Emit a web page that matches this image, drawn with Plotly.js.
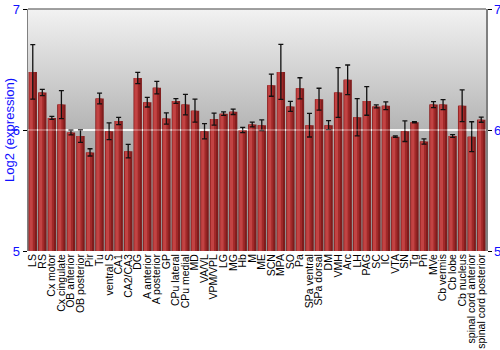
<!DOCTYPE html>
<html>
<head>
<meta charset="utf-8">
<script src="https://cdn.plot.ly/plotly-3.0.1.min.js"></script>
<style>html,body{margin:0;padding:0;background:#fff;}#chart{width:500px;height:350px;}</style>
</head>
<body>
<div id="chart"></div>
<script>
var regions = ["LS","RS","Cx motor","Cx cingulate","OB anterior","OB posterior","Pir","Tu","ventral S","CA1","CA2/CA3","DG","A anterior","A posterior","GP","CPu lateral","CPu medial","MD","VA/VL","VPM/VPL","LG","MG","Hb","M","ME","SCN","MPA","SO","Pa","SPa ventral","SPa dorsal","DM","VMH","Arc","LH","PAG","SC","IC","VTA","SN","Tg","Pn","MVe","Cb vermis","Cb lobe","Cb nucleus","spinal cord anterior","spinal cord posterior"];
var expression = [6.48,6.31,6.10,6.21,5.98,5.95,5.815,6.26,5.99,6.075,5.825,6.43,6.23,6.35,6.095,6.24,6.21,6.16,5.99,6.09,6.135,6.15,6.0,6.045,6.04,6.37,6.48,6.195,6.345,6.04,6.255,6.04,6.31,6.415,6.105,6.24,6.195,6.2,5.945,5.99,6.065,5.905,6.21,6.21,5.95,6.2,5.945,6.085];
var errors = [0.225,0.026,0.013,0.116,0.02,0.052,0.03,0.044,0.069,0.03,0.056,0.047,0.04,0.052,0.047,0.02,0.085,0.095,0.063,0.05,0.014,0.022,0.022,0.02,0.044,0.091,0.227,0.041,0.087,0.098,0.09,0.037,0.205,0.122,0.154,0.118,0.012,0.032,0.006,0.085,0.005,0.022,0.025,0.041,0.011,0.131,0.123,0.021];
var yTicks = [5,6,7];

var bgSvg = '<svg xmlns="http://www.w3.org/2000/svg" width="100" height="100" preserveAspectRatio="none"><defs><linearGradient id="g" x1="0" y1="0" x2="0" y2="1"><stop offset="0" stop-color="#f2f2f2"/><stop offset="0.5" stop-color="#b4b4b4"/><stop offset="1" stop-color="#8c8c8c"/></linearGradient></defs><rect width="100" height="100" fill="url(#g)"/></svg>';
var bgUri = 'data:image/svg+xml;base64,' + btoa(bgSvg);

function barLayer(color, offset, width, opacity) {
  return {type:'bar', x:regions, y:expression, base:0, marker:{color:color, line:{width:0}}, offset:offset, width:width, opacity:opacity, hoverinfo:'skip', showlegend:false};
}
var traces = [
  barLayer('#7e1616', -0.44, 0.88, 0.95),
  barLayer('#a32a2a', -0.40, 0.62, 0.95),
  barLayer('#c44545', -0.34, 0.34, 0.95),
  {type:'bar', x:regions, y:expression, offset:-0.44, width:0.88, marker:{color:'rgba(0,0,0,0)'}, showlegend:false,
   error_y:{type:'data', array:errors, visible:true, color:'#111', thickness:1.3, width:2.5}},
  {type:'scatter', x:[regions[0]], y:[6], yaxis:'y2', mode:'markers', marker:{opacity:0}, showlegend:false, hoverinfo:'skip'}
];

var blue = '#1010ff';
var layout = {
  width:500, height:350,
  margin:{l:28, r:14, t:9, b:99, pad:0},
  paper_bgcolor:'#ffffff', plot_bgcolor:'rgba(0,0,0,0)',
  barmode:'overlay',
  font:{family:'Liberation Sans, Arial, sans-serif', size:10, color:'#000'},
  images:[{source:bgUri, xref:'paper', yref:'paper', x:0, y:1, sizex:1, sizey:1, sizing:'stretch', layer:'below'}],
  xaxis:{type:'category', tickmode:'linear', dtick:1, tick0:0, tickangle:-90, ticks:'', showgrid:false, zeroline:false, showline:false,
         tickfont:{family:'Liberation Sans, Arial, sans-serif', size:10.5, color:'#000'}, range:[-0.5,47.5], automargin:false},
  yaxis:{range:[5,7], tickvals:yTicks, ticktext:yTicks.map(String), ticks:'outside', ticklen:4, tickcolor:'#000',
         showgrid:true, gridcolor:'#f4f4f4', gridwidth:1.5, zeroline:false, showline:true, linecolor:'#808080', linewidth:1.5,
         tickfont:{family:'Liberation Sans, Arial, sans-serif', size:13, color:blue}, automargin:false},
  yaxis2:{range:[5,7], overlaying:'y', side:'right', tickvals:yTicks, ticktext:yTicks.map(String), ticks:'outside', ticklen:4, tickcolor:'#000',
          showgrid:false, zeroline:false, showline:true, linecolor:'#808080', linewidth:1.5,
          tickfont:{family:'Liberation Sans, Arial, sans-serif', size:13, color:blue}, automargin:false},
  annotations:[{text:'Log2 (expression)', xref:'paper', yref:'paper', x:0, y:0.5, xshift:-19, xanchor:'center', yanchor:'middle',
                textangle:-90, showarrow:false, font:{family:'Liberation Sans, Arial, sans-serif', size:13, color:blue}}],
  shapes:[
    {type:'line', xref:'paper', yref:'paper', x0:0, x1:1, y0:1, y1:1, line:{color:'#808080', width:1.5}},
    {type:'line', xref:'paper', yref:'y', x0:0, x1:1, y0:6, y1:6, layer:'above', line:{color:'rgba(255,255,255,0.35)', width:1.5}}
  ]
};
Plotly.newPlot('chart', traces, layout, {displayModeBar:false, staticPlot:true});
</script>
</body>
</html>
